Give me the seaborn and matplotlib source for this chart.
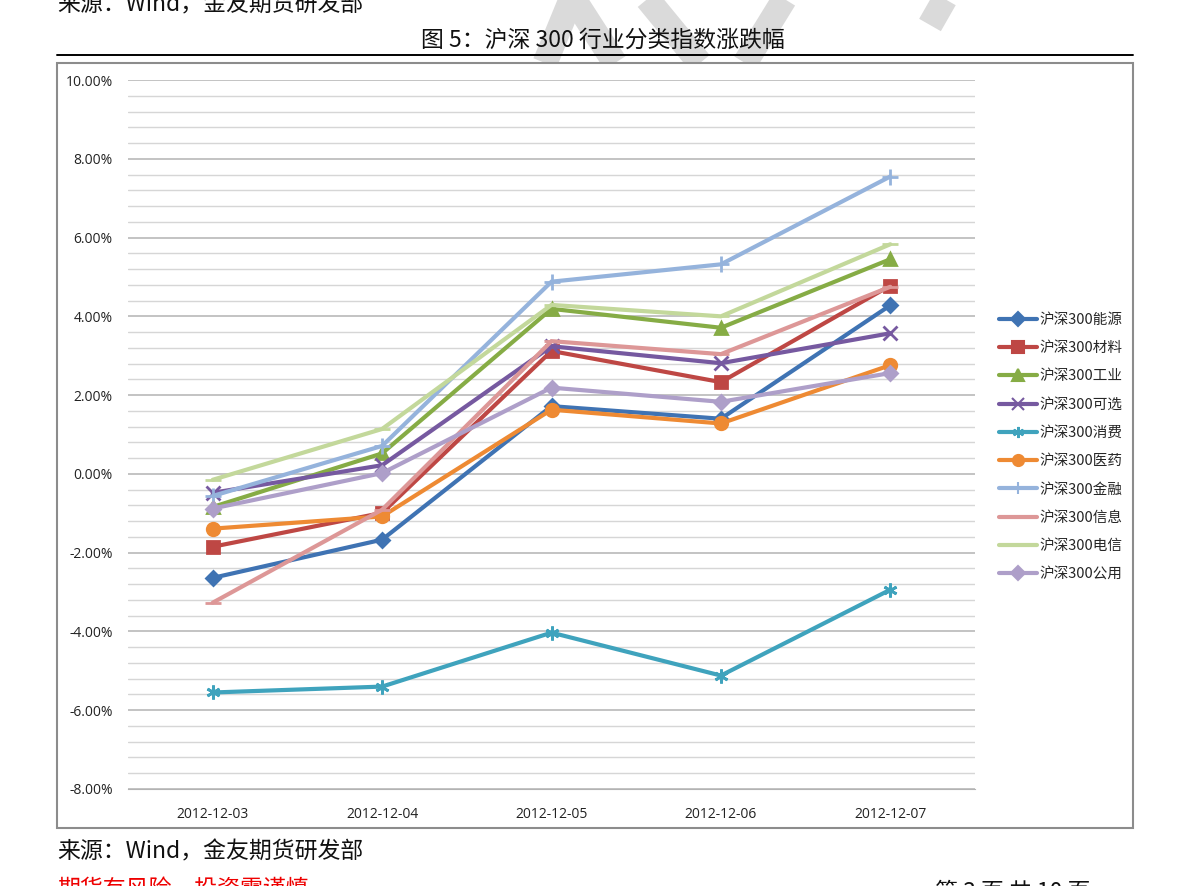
import matplotlib
matplotlib.use("Agg")
import matplotlib.pyplot as plt
import seaborn as sns
import pandas as pd
import numpy as np
from matplotlib.lines import Line2D
from matplotlib.patches import Rectangle

dates = ["2012-12-03", "2012-12-04", "2012-12-05", "2012-12-06", "2012-12-07"]
series_names = ["沪深300能源", "沪深300材料", "沪深300工业", "沪深300可选", "沪深300消费",
                "沪深300医药", "沪深300金融", "沪深300信息", "沪深300电信", "沪深300公用"]
energy     = [-2.64, -1.67, 1.72, 1.40, 4.28]
materials  = [-1.85, -0.99, 3.12, 2.33, 4.78]
industry   = [-0.84, 0.52, 4.19, 3.71, 5.45]
discretion = [-0.48, 0.22, 3.24, 2.81, 3.57]
staples    = [-5.55, -5.40, -4.03, -5.12, -2.94]
health     = [-1.39, -1.08, 1.63, 1.28, 2.76]
finance    = [-0.56, 0.71, 4.88, 5.32, 7.55]
infotech   = [-3.27, -0.91, 3.37, 3.04, 4.75]
telecom    = [-0.15, 1.14, 4.29, 4.00, 5.83]
utilities  = [-0.88, 0.02, 2.19, 1.83, 2.56]
all_values = [energy, materials, industry, discretion, staples,
              health, finance, infotech, telecom, utilities]

colors = ["#3F73B3", "#BE4744", "#86AC45", "#7659A0", "#3FA3BD",
          "#EE8A33", "#95B3DC", "#DD9797", "#C3D89B", "#AE9FC9"]
markers = ["D", "s", "^", "x", (6, 2, 0), "o", "+", "_", "_", "D"]
msizes = [7, 8, 9, 10, 10, 9, 12, 12, 12, 7]

rows = []
for name, vals in zip(series_names, all_values):
    for i, v in enumerate(vals):
        rows.append({"series": name, "xi": i, "value": v})
df = pd.DataFrame(rows)

sns.set_style("white")
plt.rcParams["font.family"] = ["Noto Sans CJK SC", "DejaVu Sans"]

W, H = 1191, 886
fig = plt.figure(figsize=(W / 100, H / 100), dpi=100)
fig.patch.set_facecolor("white")

def fx(px):
    return px / W

def fy(py):
    return 1 - py / H

# watermark strokes (light gray), behind chart box
strokes = [((575, 0), (545, 63)), ((568, 0), (615, 63)), ((640, 0), (700, 63)),
           ((790, 0), (745, 63)), ((950, 0), (930, 25))]
for (x0, y0), (x1, y1) in strokes:
    fig.add_artist(Line2D([fx(x0), fx(x1)], [fy(y0 - 10), fy(y1)], color="#dadada",
                          lw=18, solid_capstyle="butt", zorder=0.1))

# chart box
fig.add_artist(Rectangle((fx(57), fy(828)), fx(1133) - fx(57), fy(63) - fy(828),
                         facecolor="white", edgecolor="#8c8c8c", lw=1.5, zorder=0.5))

# title line
fig.add_artist(Line2D([fx(57), fx(1133)], [fy(55), fy(55)], color="black", lw=1.4, zorder=2))

ax = fig.add_axes([fx(128), fy(789), fx(975) - fx(128), fy(80) - fy(789)])
ax.set_zorder(1)

for name, c, m, ms in zip(series_names, colors, markers, msizes):
    sub = df[df["series"] == name]
    sns.lineplot(data=sub, x="xi", y="value", color=c, marker=m, markersize=ms,
                 markerfacecolor=c, markeredgecolor=c, markeredgewidth=2,
                 lw=3, ax=ax, legend=False, solid_joinstyle="miter")

ax.set_xlim(-0.5, 4.5)
ax.set_ylim(-8, 10)
ax.set_xticks(range(len(dates)))
ax.set_xticklabels(dates)
yt = np.arange(-8, 10.01, 2)
ax.set_yticks(yt)
ax.set_yticklabels([f"{v:.2f}%" for v in yt])
ax.set_yticks(np.arange(-8, 10.01, 0.4), minor=True)
ax.grid(which="major", axis="y", color="#b3b3b3", lw=1.1)
ax.grid(which="minor", axis="y", color="#d6d6d6", lw=1.0)
ax.grid(which="major", axis="x", visible=False)
ax.set_axisbelow(True)
for s in ["top", "right", "left"]:
    ax.spines[s].set_visible(False)
ax.spines["bottom"].set_color("#b3b3b3")
ax.tick_params(axis="both", which="both", length=0, labelsize=10, labelcolor="#222222")
ax.tick_params(axis="y", pad=11)
ax.tick_params(axis="x", pad=13)
for lab in ax.get_xticklabels() + ax.get_yticklabels():
    lab.set_fontfamily(["Open Sans", "DejaVu Sans"])
ax.set_xlabel("")
ax.set_ylabel("")

handles = [Line2D([0], [0], color=c, lw=3, marker=m, markersize=min(ms, 8),
                  markerfacecolor=c, markeredgecolor=c, markeredgewidth=1.5)
           for c, m, ms in zip(colors, markers, msizes)]
leg = fig.legend(handles, series_names, loc="upper left",
                 bbox_to_anchor=(fx(993), fy(307)), frameon=False,
                 prop={"family": ["Noto Sans CJK SC", "DejaVu Sans"], "size": 10.5},
                 handlelength=2.6, handletextpad=0.15, labelspacing=0.98,
                 borderaxespad=0)

# texts
fig.text(fx(57), fy(-7), "来源：Wind，金友期货研发部", ha="left", va="top",
         fontsize=16.5, style="italic", color="#111111", zorder=3)
fig.text(fx(603), fy(40), "图 5：沪深 300 行业分类指数涨跌幅", ha="center", va="center",
         fontsize=16.5, color="#111111", zorder=3)
fig.text(fx(57), fy(852), "来源：Wind，金友期货研发部", ha="left", va="center",
         fontsize=16.5, style="italic", color="#111111", zorder=3)
fig.text(fx(57), fy(878), "期货有风险，投资需谨慎", ha="left", va="top",
         fontsize=16.5, color="#ee0000", zorder=3)
fig.text(fx(935), fy(881), "第 3 页 共 10 页", ha="left", va="top",
         fontsize=16.5, color="#111111", zorder=3)

fig.savefig("out.png", dpi=100)
